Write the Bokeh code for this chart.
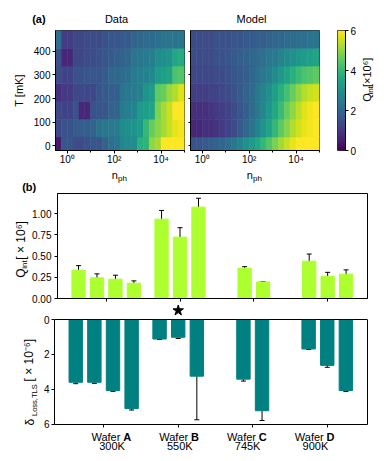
import math
import numpy as np
from bokeh.plotting import figure
from bokeh.models import (Range1d, LinearColorMapper, FixedTicker, Label, LinearAxis,
                          ColumnDataSource, Whisker, TeeHead, Span)
from bokeh.palettes import Viridis256
from bokeh.layouts import column, row
from bokeh.transform import transform
from bokeh.embed import file_html
from bokeh.resources import INLINE

FONT = "Liberation Sans"

# ---------------- data: panel (a) ----------------
T_mK = [0, 75, 150, 225, 300, 375, 450]
nph_log10 = [-0.375, -0.125, 0.125, 0.375, 0.625, 0.875, 1.125, 1.375, 1.625, 1.875,
             2.125, 2.375, 2.625, 2.875, 3.125, 3.375, 3.625, 3.875, 4.125, 4.375,
             4.625, 4.875]
# Q_int [x10^6]; rows follow T_mK, columns follow nph_log10
Q_data = [
    [0.4, 1.6, 1.6, 1.4, 1.4, 1.5, 1.6, 1.6, 1.9, 2.2, 2.3, 2.8, 2.9, 2.9, 3.8, 3.9, 5.0, 5.2, 6.0, 6.0, 6.0, 6.0],
    [1.3, 1.5, 1.5, 1.7, 1.8, 1.8, 1.9, 2.3, 2.4, 2.4, 2.5, 2.9, 3.0, 3.1, 3.3, 4.0, 4.6, 4.9, 5.2, 5.5, 5.8, 5.9],
    [1.3, 1.2, 1.2, 1.5, 0.7, 0.7, 1.5, 1.6, 1.6, 1.9, 1.9, 2.5, 2.6, 2.7, 3.3, 3.4, 3.5, 4.8, 5.2, 5.5, 6.0, 6.0],
    [0.8, 1.0, 1.0, 1.3, 1.3, 1.3, 1.3, 1.6, 1.7, 1.8, 1.8, 2.3, 2.4, 2.5, 2.6, 3.1, 3.3, 4.5, 4.6, 5.1, 5.3, 5.7],
    [1.4, 1.2, 1.2, 1.5, 1.5, 1.6, 1.6, 1.6, 1.7, 2.0, 2.0, 2.1, 2.2, 2.5, 2.6, 2.7, 2.8, 3.3, 3.4, 3.5, 4.3, 4.4],
    [1.5, 0.7, 0.7, 1.3, 1.3, 1.4, 1.4, 1.5, 1.6, 1.7, 1.8, 1.9, 2.0, 2.3, 2.4, 2.5, 2.6, 2.9, 3.0, 3.1, 3.6, 3.7],
    [2.2, 1.1, 1.1, 1.3, 1.3, 1.4, 1.4, 1.4, 1.5, 1.6, 1.6, 1.7, 1.7, 1.9, 2.0, 2.1, 2.1, 2.2, 2.3, 2.3, 2.3, 2.3],
]
Q_model = [
    [1.5, 1.6, 1.7, 1.8, 1.9, 2.0, 2.2, 2.4, 2.7, 3.0, 3.3, 3.6, 4.0, 4.4, 4.8, 5.2, 5.5, 5.8, 6.0, 6.0, 6.0, 6.0],
    [0.7, 0.7, 0.8, 0.8, 0.9, 1.0, 1.2, 1.4, 1.7, 2.0, 2.3, 2.7, 3.1, 3.5, 4.0, 4.5, 4.9, 5.3, 5.6, 5.8, 5.9, 6.0],
    [0.8, 0.8, 0.8, 0.9, 1.0, 1.1, 1.2, 1.4, 1.6, 1.8, 2.1, 2.4, 2.8, 3.2, 3.6, 4.1, 4.6, 5.0, 5.4, 5.7, 5.9, 6.0],
    [1.1, 1.1, 1.1, 1.2, 1.2, 1.3, 1.4, 1.5, 1.7, 1.9, 2.1, 2.4, 2.7, 3.0, 3.4, 3.8, 4.2, 4.6, 5.0, 5.3, 5.5, 5.6],
    [1.3, 1.3, 1.3, 1.3, 1.4, 1.4, 1.5, 1.6, 1.7, 1.8, 2.0, 2.2, 2.4, 2.6, 2.9, 3.2, 3.5, 3.8, 4.1, 4.3, 4.4, 4.5],
    [1.4, 1.4, 1.4, 1.4, 1.5, 1.5, 1.6, 1.7, 1.8, 1.9, 2.0, 2.1, 2.2, 2.4, 2.5, 2.7, 2.9, 3.0, 3.2, 3.3, 3.4, 3.5],
    [1.4, 1.4, 1.4, 1.4, 1.5, 1.5, 1.5, 1.6, 1.6, 1.7, 1.7, 1.8, 1.8, 1.9, 2.0, 2.0, 2.1, 2.1, 2.2, 2.2, 2.3, 2.3],
]
panel_titles = ["Data", "Model"]
Q_cbar_ticks = [0, 2, 4, 6]
T_ticks = [0, 100, 200, 300, 400]
nph_major = [1, 100, 10000]
nph_minor = [10, 1000, 100000]
nph_labels = {1: "10\u2070", 100: "10\u00b2", 10000: "10\u2074"}

# ---------------- data: panel (b) ----------------
wafers = ["A", "B", "C", "D"]
anneal = ["300K", "550K", "745K", "900K"]
sample_wafer = ["A", "A", "A", "A", "B", "B", "B", "C", "C", "D", "D", "D"]
q_int = [0.335, 0.244, 0.228, 0.180, 0.937, 0.724, 1.079, 0.358, 0.196, 0.440, 0.262, 0.287]
q_int_err = [0.053, 0.047, 0.047, 0.028, 0.103, 0.112, 0.105, 0.018, 0.004, 0.085, 0.047, 0.051]
d_tls = [3.60, 3.60, 4.07, 5.11, 1.12, 1.02, 3.25, 3.42, 5.23, 1.69, 2.63, 4.07]
d_tls_err = [0.08, 0.06, 0.05, 0.08, 0.03, 0.07, 2.50, 0.11, 0.56, 0.03, 0.11, 0.06]
star_sample = 5
q_ticks = [0.0, 0.25, 0.5, 0.75, 1.0]
d_ticks = [0, 2, 4, 6]

mapper = LinearColorMapper(palette=Viridis256, low=0, high=6)


def strip(x0, x1, y0, y1):
    """Axis-free figure whose data coordinates are page pixels (y negated)."""
    p = figure(width=x1 - x0, height=y1 - y0, x_range=Range1d(x0, x1),
               y_range=Range1d(-y1, -y0), toolbar_location=None, output_backend="svg",
               x_axis_location=None, y_axis_location=None, title=None,
               min_border_left=0, min_border_right=0, min_border_top=0,
               min_border_bottom=0)
    p.grid.visible = False
    p.outline_line_color = None
    return p


def txt(p, px, py, text, size, bold=False, rotated=False, align="left"):
    # (px, py) is the baseline point; the label is anchored at the text box middle
    off = 0.3465 * size
    if rotated:
        cx, cy, ang = px - off, py, math.pi / 2
    else:
        cx, cy, ang = px, py - off, 0.0
    p.add_layout(Label(x=cx, y=-cy, text=text, text_font=FONT,
                       text_font_size=f"{size}px",
                       text_font_style="bold" if bold else "normal", angle=ang,
                       text_align=align, text_baseline="middle", text_color="black"))


def style_axes(p, size="10px"):
    for ax in p.axis:
        ax.major_label_text_font = FONT
        ax.major_label_text_font_size = size
        ax.major_label_text_color = "black"
        ax.axis_line_color = "black"
        ax.major_tick_line_color = "black"
        ax.minor_tick_line_color = "black"
        ax.major_tick_in = 0
        ax.major_tick_out = 3
        ax.minor_tick_in = 0
        ax.minor_tick_out = 2
        ax.major_label_standoff = 2
        ax.axis_label_text_font = FONT
        ax.axis_label_text_font_style = "normal"
        ax.axis_label_text_font_size = "11px"
        ax.axis_label_text_color = "black"
    p.xgrid.visible = False
    p.ygrid.visible = False


# ---------------- heatmaps ----------------
LX0, LX1 = -0.5, 5.0
TY0, TY1 = -20, 488
hw = (nph_log10[1] - nph_log10[0]) / 2
ROW_H = 143


def heat_source(Q):
    left, right, bottom, top, val = [], [], [], [], []
    for i, T in enumerate(T_mK):
        lo = T - (T_mK[1] - T_mK[0]) / 2 if i == 0 else (T_mK[i - 1] + T) / 2
        hi = T + (T_mK[-1] - T_mK[-2]) / 2 if i == len(T_mK) - 1 else (T_mK[i + 1] + T) / 2
        for j, c in enumerate(nph_log10):
            left.append(10 ** (c - hw))
            right.append(10 ** (c + hw))
            bottom.append(lo)
            top.append(hi)
            val.append(Q[i][j])
    return ColumnDataSource(dict(left=left, right=right, bottom=bottom, top=top, val=val))


def heat_fig(Q, width, mbl, mbr, show_ylabels):
    p = figure(width=width, height=ROW_H, x_axis_type="log", title=None,
               x_range=Range1d(10 ** LX0, 10 ** LX1), y_range=Range1d(TY0, TY1),
               toolbar_location=None, output_backend="svg",
               min_border_left=mbl, min_border_right=mbr, min_border_top=0,
               min_border_bottom=14)
    p.quad(left="left", right="right", bottom="bottom", top="top",
           source=heat_source(Q), fill_color=transform("val", mapper),
           line_color=transform("val", mapper), line_width=0.6)
    p.xaxis.ticker = FixedTicker(ticks=nph_major, minor_ticks=nph_minor)
    p.xaxis.major_label_overrides = nph_labels
    p.yaxis.ticker = FixedTicker(ticks=T_ticks, minor_ticks=[])
    style_axes(p)
    p.xaxis.major_label_standoff = 0
    if not show_ylabels:
        p.yaxis.major_label_overrides = {t: "" for t in T_ticks}
        p.yaxis.major_label_text_font_size = "0px"
        p.yaxis.major_label_standoff = 0
        p.yaxis.major_tick_out = 2
    p.outline_line_color = "#2b2b2b"
    p.outline_line_width = 1
    return p


figA = heat_fig(Q_data, 187, 55, 3, True)
figA.yaxis.axis_label = "T [mK]"
figA.yaxis.axis_label_standoff = 6
figB = heat_fig(Q_model, 138, 3, 6, False)

# colour bar
figC = figure(width=34, height=ROW_H, x_range=Range1d(0, 1), y_range=Range1d(0, 6),
              toolbar_location=None, output_backend="svg", y_axis_location="right",
              x_axis_location=None, title=None,
              min_border_left=12, min_border_right=13, min_border_top=5,
              min_border_bottom=18)
figC.image(image=[np.linspace(0, 6, 256).reshape(256, 1)], x=0, y=0, dw=1, dh=6,
           color_mapper=mapper)
figC.yaxis.ticker = FixedTicker(ticks=Q_cbar_ticks, minor_ticks=[])
style_axes(figC)
figC.outline_line_color = "#2b2b2b"
figC.outline_line_width = 1

cbar_lab = strip(359, 384, 25, 25 + ROW_H)
txt(cbar_lab, 370.7, 110, "Q", 11, rotated=True)
txt(cbar_lab, 373.0, 110 - 8.6, "int", 8, rotated=True)
txt(cbar_lab, 370.7, 110 - 17.6, " [\u00d710\u2076]", 11, rotated=True)

# strips with titles / axis labels for panel (a)
top_strip = strip(0, 384, 0, 25)
txt(top_strip, 31.7, 22, "(a)", 11, bold=True)
for title, (fl, fr) in zip(panel_titles, [(55, 184), (190, 319)]):
    txt(top_strip, (fl + fr) / 2 - 3.5, 22.6, title, 11, align="center")

mid_strip = strip(0, 384, 25 + ROW_H, 193)
for fl, fr in [(55, 184), (190, 319)]:
    t100 = fl + (2 - LX0) / (LX1 - LX0) * (fr - fl)
    txt(mid_strip, t100 - 2.5, 178, "n", 11)
    txt(mid_strip, t100 + 3.9, 180.3, "ph", 8)
txt(mid_strip, 21.7, 190, "(b)", 11, bold=True)

# ---------------- bar charts ----------------
BX0, BX1 = -0.66, 3.54
counts = {w: sample_wafer.count(w) for w in wafers}
seen = {w: 0 for w in wafers}
xs = []
for w in sample_wafer:
    xs.append(wafers.index(w) + (seen[w] - (counts[w] - 1) / 2) * 0.25)
    seen[w] += 1
src = ColumnDataSource(dict(
    x=xs, q=q_int, q_lo=[a - b for a, b in zip(q_int, q_int_err)],
    q_hi=[a + b for a, b in zip(q_int, q_int_err)],
    d=d_tls, d_lo=[a - b for a, b in zip(d_tls, d_tls_err)],
    d_hi=[a + b for a, b in zip(d_tls, d_tls_err)], zero=[0] * len(xs)))


def whisk(p, lo, hi):
    p.add_layout(Whisker(source=src, base="x", lower=lo, upper=hi, line_color="black",
                         line_width=1,
                         lower_head=TeeHead(size=5, line_color="black", line_width=1),
                         upper_head=TeeHead(size=5, line_color="black", line_width=1)))


figTop = figure(width=355, height=111, x_range=Range1d(BX0, BX1), y_range=Range1d(0, 1.24),
                toolbar_location=None, output_backend="svg", title=None,
                min_border_left=25, min_border_right=17, min_border_top=0, min_border_bottom=6)
figTop.vbar(x="x", top="q", bottom="zero", width=0.18, source=src, color="#adff2f")
whisk(figTop, "q_lo", "q_hi")
figTop.xaxis.ticker = FixedTicker(ticks=list(range(len(wafers))), minor_ticks=[])
figTop.yaxis.ticker = FixedTicker(ticks=q_ticks, minor_ticks=[])
figTop.yaxis.major_label_overrides = {t: f"{t:.2f}" for t in q_ticks}
style_axes(figTop)
figTop.yaxis.major_label_standoff = 3
figTop.xaxis.major_label_overrides = {i: "" for i in range(len(wafers))}
figTop.xaxis.major_label_text_font_size = "0px"
figTop.xaxis.major_label_standoff = 0
figTop.outline_line_color = "black"

q_lab = strip(0, 29, 193, 304)
txt(q_lab, 24.8, 282, "Q", 12, rotated=True)
txt(q_lab, 26.9, 272.5, "int", 8, rotated=True)
txt(q_lab, 24.8, 263, "[ \u00d7 10\u2076]", 12, rotated=True)

# bottom panel: frame extends up to hold the star; visible box drawn by axes + span
BOT_TOP = -(319 - 304) * 6.02 / 105
figBot = figure(width=344, height=126, x_range=figTop.x_range,
                y_range=Range1d(6.02, BOT_TOP),
                toolbar_location=None, output_backend="svg", title=None,
                min_border_left=14, min_border_right=17, min_border_top=0, min_border_bottom=6)
figBot.vbar(x="x", top="zero", bottom="d", width=0.18, source=src, color="#008080")
whisk(figBot, "d_lo", "d_hi")
figBot.scatter(x=[xs[star_sample]], y=[-(319 - 310) * 6.02 / 105], marker="star",
               size=11, color="black")
figBot.add_layout(LinearAxis(ticker=FixedTicker(ticks=[], minor_ticks=[])), "right")
figBot.xaxis.ticker = FixedTicker(ticks=list(range(len(wafers))), minor_ticks=[])
figBot.yaxis[0].ticker = FixedTicker(ticks=d_ticks, minor_ticks=[])
style_axes(figBot)
for ax in figBot.yaxis:
    ax.bounds = (0, 6.02)
figBot.yaxis[1].major_label_text_font_size = "0px"
figBot.yaxis[1].major_label_standoff = 0
figBot.yaxis[1].major_tick_out = 0
figBot.xaxis.major_label_overrides = {i: "" for i in range(len(wafers))}
figBot.xaxis.major_label_text_font_size = "0px"
figBot.xaxis.major_label_standoff = 0
figBot.outline_line_color = None
figBot.add_layout(Span(location=0, dimension="width", line_color="black", line_width=1))

d_lab = strip(0, 40, 304, 461)
txt(d_lab, 33.7, 425.0, "\u03b4", 12, rotated=True)
txt(d_lab, 36.6, 415.5, "Loss,TLS", 7.5, rotated=True)
txt(d_lab, 33.0, 381, "[ \u00d7 10\u207b\u2076]", 12, rotated=True)

wafer_strip = strip(40, 384, 430, 461)
for i, (w, a) in enumerate(zip(wafers, anneal)):
    px = 54 + (i - BX0) / (BX1 - BX0) * 313
    txt(wafer_strip, px + 9.2, 440, "Wafer", 11, align="right")
    txt(wafer_strip, px + 12.3, 440, w, 11, bold=True)
    txt(wafer_strip, px, 449, a, 11, align="center")

layout = column(
    top_strip,
    row(figA, figB, figC, cbar_lab, spacing=0),
    mid_strip,
    row(q_lab, figTop, spacing=0),
    row(d_lab, column(figBot, wafer_strip, spacing=0), spacing=0),
    spacing=0,
)

open("out.html", "w").write(file_html(layout, INLINE))
